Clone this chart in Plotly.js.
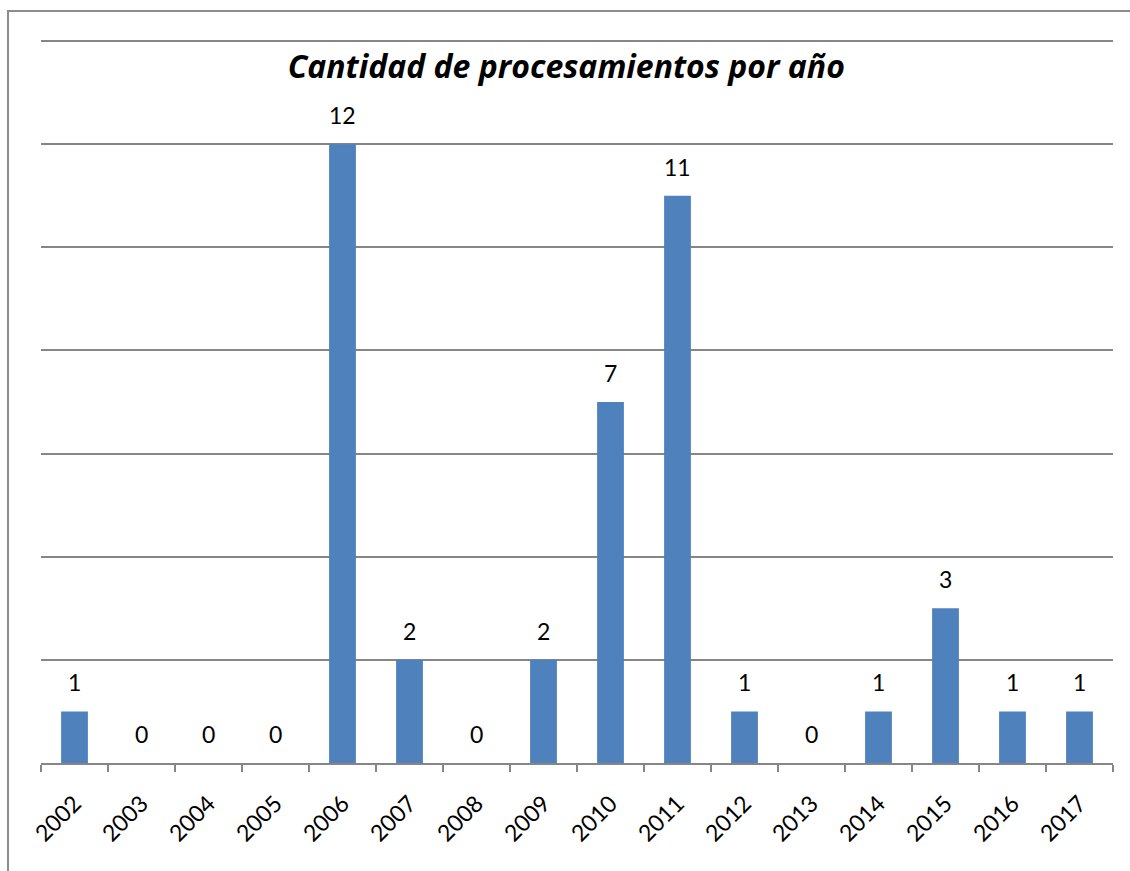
<!DOCTYPE html>
<html><head><meta charset="utf-8">
<script src="https://cdn.plot.ly/plotly-3.0.1.min.js"></script>
<style>body{margin:0;background:#fff}#chart{width:1130px;height:871px}</style>
</head><body><div id="chart"></div>
<script>
const years = ['2002','2003','2004','2005','2006','2007','2008','2009','2010','2011','2012','2013','2014','2015','2016','2017'];
const counts = [1,0,0,0,12,2,0,2,7,11,1,0,1,3,1,1];
const titleText = 'Cantidad de procesamientos por año';

const trace = {
  type: 'bar', x: years, y: counts,
  marker: {color: '#4F81BD', line: {width: 0}},
  hoverinfo: 'x+y'
};
const labelFont = {family: 'Lato, sans-serif', size: 23, color: '#000'};
// category index positions for value labels
const annotations = years.map((yr, i) => ({
  x: i, y: counts[i], xref: 'x', yref: 'y', text: String(counts[i]),
  showarrow: false, yanchor: 'bottom', xanchor: 'center', yshift: 13, font: labelFont
}));
const layout = {
  width: 1130, height: 871,
  margin: {l: 41, r: 17, t: 40, b: 108},
  paper_bgcolor: '#fff', plot_bgcolor: '#fff',
  bargap: 0.6, showlegend: false,
  title: {text: '<b><i>' + titleText + '</i></b>', font: {family: '"Open Sans", sans-serif', size: 32, color: '#000'},
          xref: 'paper', x: 0.49, xanchor: 'center', yref: 'paper', y: 0.963, yanchor: 'middle'},
  xaxis: {type: 'category', categoryorder: 'array', categoryarray: years, range: [-0.5, years.length - 0.5],
          autorange: false, showline: true, linecolor: '#868686', linewidth: 2,
          ticks: 'outside', ticklen: 7, tickcolor: '#868686', tickwidth: 2, tickson: 'boundaries',
          tickangle: -45, ticklabelstandoff: 16, tickfont: {family: 'Lato, sans-serif', size: 23, color: '#000'},
          showgrid: false, automargin: false},
  yaxis: {range: [0, 14.02], autorange: false, dtick: 2, showgrid: true, gridcolor: '#868686', gridwidth: 2,
          showticklabels: false, zeroline: false, showline: false, automargin: false},
  annotations: annotations,
  shapes: [{type: 'rect', xref: 'paper', yref: 'paper', x0: -33/1072, x1: 1140/1072, y0: -120/723, y1: 752/723,
            line: {color: '#8C8C8C', width: 2}, fillcolor: 'rgba(0,0,0,0)', layer: 'below'}]
};
Plotly.newPlot('chart', [trace], layout, {displayModeBar: false, staticPlot: true});
</script></body></html>
